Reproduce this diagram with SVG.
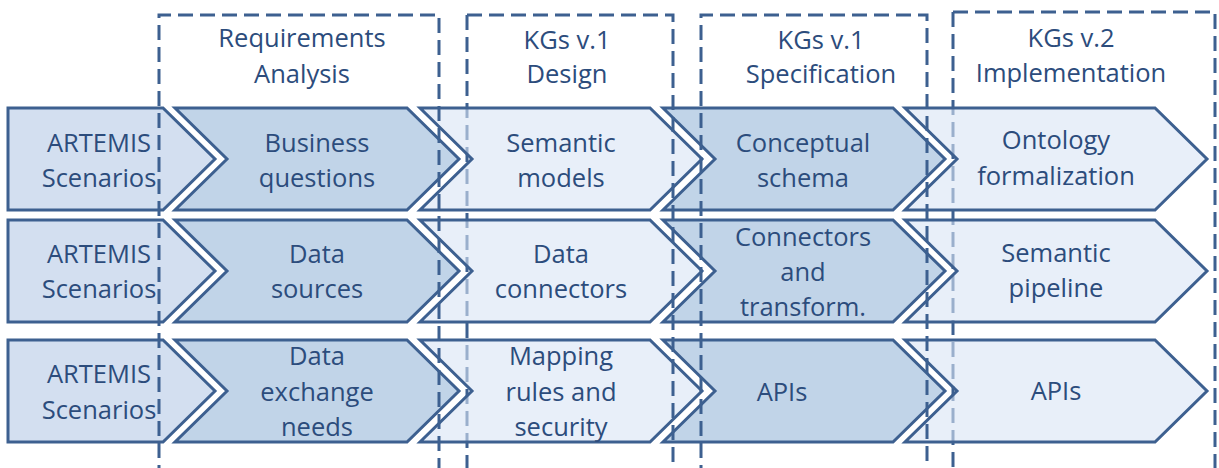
<svg xmlns="http://www.w3.org/2000/svg" width="1219" height="468" viewBox="0 0 1219 468">
  <style>
    .chev { stroke: #3d6090; stroke-width: 3; stroke-linejoin: miter; }
    .c1 { fill: #d3dff0; }
    .c2 { fill: #c1d4e8; }
    .c3 { fill: #d9e4f5; fill-opacity: 0.6; }
    .frame { fill: none; stroke: #3d6090; stroke-width: 3; stroke-dasharray: 15 7; }
    text { font-family: "Open Sans", "Noto Sans", "DejaVu Sans", sans-serif; font-size: 25.5px; fill: #2c4c7c; text-anchor: middle; }
  </style>
  <rect width="1219" height="468" fill="#ffffff"/>

  <!-- phase frame edges lying beneath the chevrons -->
  <g id="phase-frames-under">
    <path class="frame" d="M467 15 V480"/>
    <path class="frame" d="M953 12 V480"/>
  </g>

  <!-- Row 1 -->
  <g id="r1c1"><polygon class="chev c1" points="8,108 163,108 215,159 163,210 8,210"/>
    <text x="99" y="152">ARTEMIS</text><text x="99" y="187">Scenarios</text></g>
  <g id="r1c2"><polygon class="chev c2" points="175,108 407,108 459,159 407,210 175,210 227,159"/>
    <text x="317" y="152">Business</text><text x="317" y="187">questions</text></g>
  <g id="r1c3"><polygon class="chev c3" points="420,108 650,108 702,159 650,210 420,210 472,159"/>
    <text x="561" y="152">Semantic</text><text x="561" y="187">models</text></g>
  <g id="r1c4"><polygon class="chev c2" points="663,108 893,108 945,159 893,210 663,210 715,159"/>
    <text x="803" y="152">Conceptual</text><text x="803" y="187">schema</text></g>
  <g id="r1c5"><polygon class="chev c3" points="905,108 1155,108 1207,159 1155,210 905,210 957,159"/>
    <text x="1056" y="149">Ontology</text><text x="1056" y="185">formalization</text></g>

  <!-- Row 2 -->
  <g id="r2c1"><polygon class="chev c1" points="8,220 163,220 215,271 163,322 8,322"/>
    <text x="99" y="263">ARTEMIS</text><text x="99" y="298">Scenarios</text></g>
  <g id="r2c2"><polygon class="chev c2" points="175,220 407,220 459,271 407,322 175,322 227,271"/>
    <text x="317" y="263">Data</text><text x="317" y="298">sources</text></g>
  <g id="r2c3"><polygon class="chev c3" points="420,220 650,220 702,271 650,322 420,322 472,271"/>
    <text x="561" y="263">Data</text><text x="561" y="298">connectors</text></g>
  <g id="r2c4"><polygon class="chev c2" points="663,220 893,220 945,271 893,322 663,322 715,271"/>
    <text x="803" y="246">Connectors</text><text x="803" y="281">and</text><text x="803" y="316">transform.</text></g>
  <g id="r2c5"><polygon class="chev c3" points="905,220 1155,220 1207,271 1155,322 905,322 957,271"/>
    <text x="1056" y="262">Semantic</text><text x="1056" y="297">pipeline</text></g>

  <!-- Row 3 -->
  <g id="r3c1"><polygon class="chev c1" points="8,340 163,340 215,391 163,442 8,442"/>
    <text x="99" y="383">ARTEMIS</text><text x="99" y="419">Scenarios</text></g>
  <g id="r3c2"><polygon class="chev c2" points="175,340 407,340 459,391 407,442 175,442 227,391"/>
    <text x="317" y="365">Data</text><text x="317" y="401">exchange</text><text x="317" y="436">needs</text></g>
  <g id="r3c3"><polygon class="chev c3" points="420,340 650,340 702,391 650,442 420,442 472,391"/>
    <text x="561" y="365">Mapping</text><text x="561" y="401">rules and</text><text x="561" y="436">security</text></g>
  <g id="r3c4"><polygon class="chev c2" points="663,340 893,340 945,391 893,442 663,442 715,391"/>
    <text x="782" y="401">APIs</text></g>
  <g id="r3c5"><polygon class="chev c3" points="905,340 1155,340 1207,391 1155,442 905,442 957,391"/>
    <text x="1056" y="400">APIs</text></g>

  <!-- phase frames (dashed) -->
  <g id="phase-frames">
    <path class="frame" d="M159 480 V15 H439 V480"/>
    <path class="frame" d="M467 15 H673 V480"/>
    <path class="frame" d="M701 480 V15 H927 V480"/>
    <path class="frame" d="M953 12 H1215 V480"/>
  </g>

  <!-- phase labels -->
  <g id="phase-requirements"><text x="302" y="47">Requirements</text><text x="302" y="83">Analysis</text></g>
  <g id="phase-design"><text x="567" y="49">KGs v.1</text><text x="567" y="83">Design</text></g>
  <g id="phase-specification"><text x="821" y="49">KGs v.1</text><text x="821" y="83">Specification</text></g>
  <g id="phase-implementation"><text x="1071" y="47">KGs v.2</text><text x="1071" y="82">Implementation</text></g>
</svg>
